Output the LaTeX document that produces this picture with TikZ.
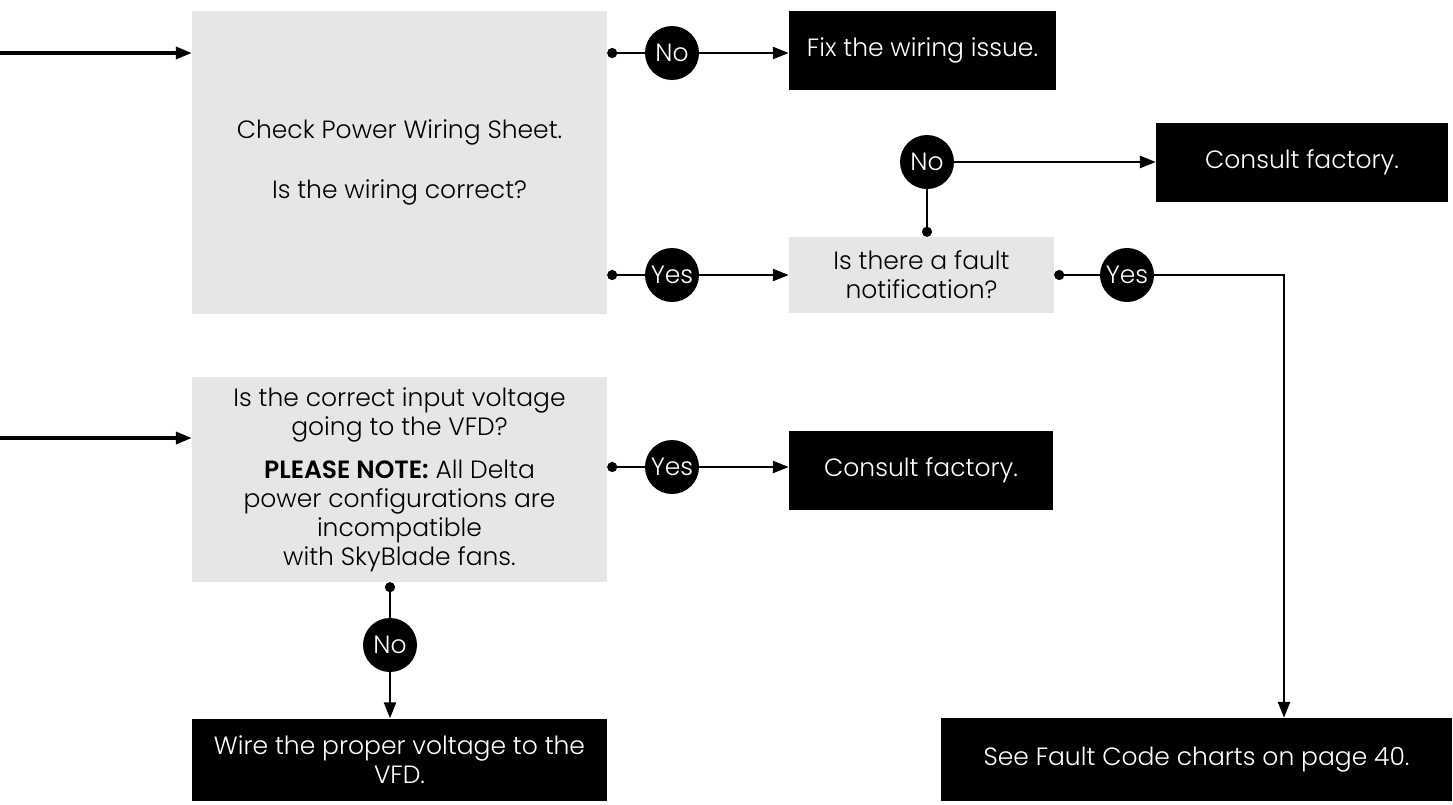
\documentclass[tikz,border=0pt]{standalone}
\usepackage{fontspec}
\setmainfont{Poppins}[UprightFont=* Light, BoldFont=* SemiBold]
\usetikzlibrary{positioning,arrows.meta,calc}
\definecolor{askfill}{HTML}{E6E6E6}

\begin{document}
\begin{tikzpicture}[x=1pt, y=-1pt,
  font=\fontsize{25}{29}\selectfont,
  ask/.style={fill=askfill, inner sep=0, align=center},
  act/.style={fill=black, text=white, inner sep=0, align=center},
  yn/.style={circle, fill=black, text=white, minimum size=54pt, inner sep=0},
  wire/.style={line width=2.5pt},
  go/.style={wire, -{Triangle[length=16pt, width=12pt]}},
  tap/.style={wire, {Circle[length=10pt]}-}]
\useasboundingbox (0,0) rectangle (1453,804);

% questions
\node[ask, minimum width=415pt, minimum height=303pt] (wiring) at (399.5,162.5)
  {Check Power Wiring Sheet.\\[31pt]Is the wiring correct?};
\node[ask, minimum width=265pt, minimum height=76pt] (fault) at (921.5,275)
  {Is there a fault\\notification?};
\node[ask, minimum width=415pt, minimum height=205pt] (voltage) at (399.5,479.5)
  {Is the correct input voltage\\going to the VFD?\\[14pt]\textbf{PLEASE NOTE:} All Delta\\
   power configurations are\\incompatible\\with SkyBlade fans.};

% actions
\node[act, minimum width=267pt, minimum height=79pt] (fix) at (922.5,50.5)
  {Fix the wiring issue.};
\node[act, minimum width=292pt, minimum height=79pt] (consultA) at (1302,162.5)
  {Consult factory.};
\node[act, minimum width=264pt, minimum height=79pt] (consultB) at (921,470.5)
  {Consult factory.};
\node[act, minimum width=511pt, minimum height=83pt] (codes) at (1196.5,759.5)
  {See Fault Code charts on page 40.};
\node[act, minimum width=415pt, minimum height=82pt] (proper) at (399.5,759.5)
  {Wire the proper voltage to the\\VFD.};

% answers
\node[yn] (no1) at (672,53) {No};
\node[yn] (yes1) at (672,275) {Yes};
\node[yn] (no2) at (927,162) {No};
\node[yn] (yes2) at (1127,275) {Yes};
\node[yn] (yes3) at (672,467) {Yes};
\node[yn] (no3) at (390,645) {No};

\coordinate (inA) at (0,53);
\coordinate (inB) at (0,438);
\coordinate (bend) at (1284,275);

\draw[go, line width=3.5pt] (inA) -- (inA -| wiring.west);
\draw[tap] (wiring.east |- no1) -- (no1);
\draw[go] (no1) -- (no1 -| fix.west);
\draw[tap] (wiring.east |- yes1) -- (yes1);
\draw[go] (yes1) -- (yes1 -| fault.west);
\draw[tap] (no2 |- fault.north) -- (no2);
\draw[go] (no2) -- (no2 -| consultA.west);
\draw[tap] (fault.east |- yes2) -- (yes2);
\draw[go] (yes2) -- (bend) -- (bend |- codes.north);

\draw[go, line width=3.5pt] (inB) -- (inB -| voltage.west);
\draw[tap] (voltage.east |- yes3) -- (yes3);
\draw[go] (yes3) -- (yes3 -| consultB.west);
\draw[tap] (no3 |- voltage.south) -- (no3);
\draw[go] (no3) -- (no3 |- proper.north);
\end{tikzpicture}
\end{document}
